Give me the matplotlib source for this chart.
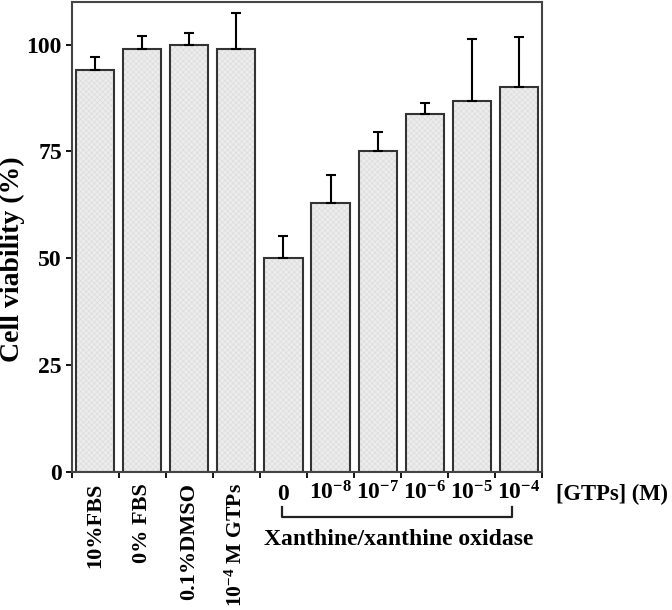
import matplotlib
matplotlib.use("Agg")
import matplotlib.pyplot as plt
import numpy as np

plt.rcParams['font.family'] = ['Liberation Serif', 'DejaVu Serif']
plt.rcParams['font.weight'] = 'bold'
plt.rcParams['mathtext.fontset'] = 'custom'
plt.rcParams['mathtext.rm'] = 'Liberation Serif:bold'
plt.rcParams['mathtext.bf'] = 'Liberation Serif:bold'
plt.rcParams['mathtext.it'] = 'Liberation Serif:bold'
plt.rcParams['mathtext.default'] = 'bf'
plt.rcParams['hatch.linewidth'] = 0.4

# ---- data ----
control_labels = ["10%FBS", "0% FBS", "0.1%DMSO", "10$^{-4}$ M GTPs"]
xo_labels = ["0", "10$^{-8}$", "10$^{-7}$", "10$^{-6}$", "10$^{-5}$", "10$^{-4}$"]
viability = [94.0, 99.0, 100.0, 99.1, 50.0, 63.0, 75.2, 83.8, 86.9, 90.0]
errors = [3.1, 3.0, 2.7, 8.4, 5.2, 6.6, 4.3, 2.6, 14.5, 11.7]
y_ticks = [0, 25, 50, 75, 100]
group_label = "Xanthine/xanthine oxidase"
conc_label = "[GTPs] (M)"
y_label = "Cell viability (%)"

FS = 17

fig = plt.figure(figsize=(6.72, 6.10), dpi=100)
ax = fig.add_axes([0.1067, 0.2267, 0.7003, 0.77])

n = len(viability)
x = np.arange(n)
# light textured fill
ax.bar(x, viability, width=0.81, facecolor='#ececec', edgecolor='#dadada',
       linewidth=0, hatch='xxxxxx', zorder=2)
# dark outlines
ax.bar(x, viability, width=0.81, facecolor='none', edgecolor='#333333',
       linewidth=1.5, zorder=2.5)
ax.errorbar(x, viability, yerr=[np.zeros(n), errors], fmt='none', ecolor='black',
            elinewidth=1.5, capsize=3.5, capthick=1.5, zorder=3)

ax.set_xlim(-0.5, n - 0.5)
ax.set_ylim(0, 110)
ax.set_yticks(y_ticks)
ax.set_yticklabels([str(v) for v in y_ticks], fontsize=FS, fontweight='bold')
ax.tick_params(axis='y', direction='out', length=4, width=1.3, pad=3)

ax.set_xticks([])
ax.set_xticks(np.arange(n + 1) - 0.5, minor=True)
ax.tick_params(axis='x', which='minor', direction='out', length=4, width=1.3,
               labelbottom=False)

for s in ax.spines.values():
    s.set_linewidth(1.5)
    s.set_color('#444444')

trans = matplotlib.transforms.blended_transform_factory(ax.transData, ax.transAxes)

for i, lab in enumerate(control_labels):
    ax.text(i, -0.024, lab, rotation=90, ha='center', va='top',
            fontsize=15.6 if i == 3 else 16,
            fontweight='bold', transform=trans, clip_on=False)

for j, lab in enumerate(xo_labels):
    ax.text(4 + j, -0.060, lab, ha='center', va='baseline', fontsize=FS,
            fontweight='bold', transform=trans, clip_on=False)

ax.text(9.8, -0.060, conc_label, ha='left', va='baseline', fontsize=16.3,
        fontweight='bold', transform=trans, clip_on=False)

ax.plot([3.97, 3.97, 8.86, 8.86], [-0.076, -0.097, -0.097, -0.076], color='#222222',
        lw=1.6, transform=trans, clip_on=False)
ax.text(6.45, -0.156, group_label, ha='center', va='baseline', fontsize=FS,
        fontweight='bold', transform=trans, clip_on=False)

fig.text(0.0186, 0.575, y_label, rotation=90, ha='center', va='center',
         fontsize=20, fontweight='bold')

fig.savefig("out.png", dpi=100)
